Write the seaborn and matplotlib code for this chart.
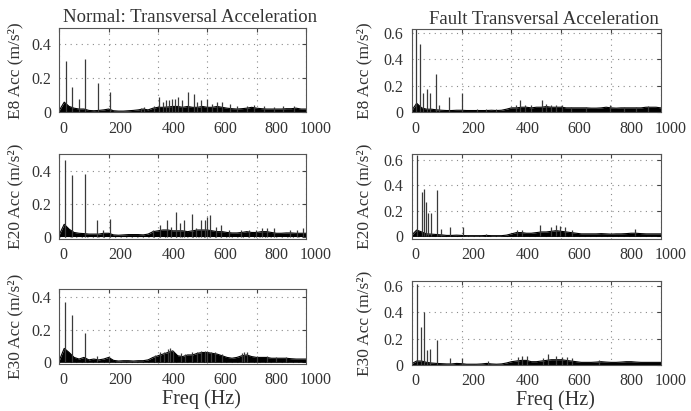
import numpy as np
import pandas as pd
import matplotlib
matplotlib.use('Agg')
import matplotlib.pyplot as plt
import matplotlib.transforms as mtransforms
import seaborn as sns

# frequency grid for the dense noise band (Hz)
band_freq = list(range(0, 1001, 20))

# ---- Normal E8 ----
e8n_band = [0.012, 0.06, 0.035, 0.025, 0.02, 0.02, 0.012, 0.01, 0.012, 0.015, 0.02, 0.01, 0.008, 0.008, 0.01,
            0.012, 0.015, 0.02, 0.015, 0.025, 0.03, 0.03, 0.032, 0.035, 0.035, 0.03, 0.035, 0.03, 0.03, 0.035,
            0.03, 0.03, 0.035, 0.03, 0.025, 0.022, 0.02, 0.022, 0.025, 0.03, 0.025, 0.022, 0.02, 0.02, 0.02,
            0.02, 0.022, 0.022, 0.025, 0.02, 0.02]
e8n_pk_f = [27, 53, 79, 105, 156, 205, 330, 345, 385, 405, 420, 432, 445, 458, 470, 483, 497, 520, 545, 560,
            575, 600, 620, 640, 660, 690, 720, 760, 790, 830, 870, 905, 950]
e8n_pk_a = [0.30, 0.15, 0.08, 0.31, 0.17, 0.12, 0.025, 0.03, 0.04, 0.09, 0.06, 0.07, 0.07, 0.08, 0.08, 0.09,
            0.07, 0.12, 0.11, 0.06, 0.07, 0.08, 0.05, 0.06, 0.06, 0.05, 0.04, 0.04, 0.045, 0.035, 0.03, 0.035, 0.035]

# ---- Fault E8 ----
e8f_band = [0.01, 0.065, 0.03, 0.02, 0.02, 0.015, 0.012, 0.01, 0.01, 0.012, 0.012, 0.01, 0.01, 0.01, 0.01,
            0.01, 0.012, 0.01, 0.012, 0.02, 0.03, 0.03, 0.035, 0.035, 0.03, 0.035, 0.035, 0.04, 0.035, 0.035,
            0.035, 0.03, 0.03, 0.03, 0.03, 0.03, 0.028, 0.028, 0.03, 0.035, 0.03, 0.028, 0.03, 0.03, 0.03,
            0.03, 0.03, 0.035, 0.035, 0.035, 0.03]
e8f_pk_f = [17, 33, 47, 60, 74, 96, 111, 150, 200, 260, 300, 340, 420, 434, 455, 480, 521, 540, 560, 580,
            602, 640, 700, 795, 850, 900, 949]
e8f_pk_a = [0.64, 0.52, 0.14, 0.17, 0.14, 0.29, 0.05, 0.11, 0.14, 0.02, 0.02, 0.02, 0.05, 0.09, 0.05, 0.05,
            0.09, 0.06, 0.05, 0.05, 0.05, 0.04, 0.04, 0.05, 0.04, 0.04, 0.045]

# ---- Normal E20 ----
e20n_band = [0.012, 0.075, 0.045, 0.025, 0.02, 0.018, 0.015, 0.015, 0.015, 0.02, 0.02, 0.01, 0.008, 0.01, 0.012,
             0.012, 0.012, 0.01, 0.015, 0.03, 0.035, 0.04, 0.04, 0.035, 0.035, 0.035, 0.03, 0.035, 0.04, 0.04,
             0.04, 0.035, 0.03, 0.03, 0.025, 0.022, 0.022, 0.025, 0.03, 0.025, 0.025, 0.03, 0.03, 0.025, 0.02,
             0.02, 0.022, 0.022, 0.02, 0.02, 0.02]
e20n_pk_f = [25, 52, 105, 153, 179, 204, 380, 407, 436, 452, 472, 489, 507, 536, 553, 573, 589, 600, 611, 636,
             656, 689, 736, 769, 796, 823, 843, 869, 936, 963, 989]
e20n_pk_a = [0.47, 0.375, 0.38, 0.10, 0.04, 0.105, 0.04, 0.07, 0.10, 0.06, 0.15, 0.08, 0.10, 0.14, 0.05, 0.10,
             0.10, 0.12, 0.13, 0.06, 0.07, 0.04, 0.04, 0.04, 0.04, 0.05, 0.05, 0.05, 0.04, 0.04, 0.05]

# ---- Fault E20 ----
e20f_band = [0.01, 0.05, 0.035, 0.02, 0.018, 0.015, 0.012, 0.008, 0.008, 0.01, 0.008, 0.006, 0.006, 0.006, 0.006,
             0.008, 0.006, 0.006, 0.006, 0.01, 0.02, 0.03, 0.03, 0.025, 0.025, 0.03, 0.035, 0.035, 0.04, 0.045,
             0.04, 0.035, 0.03, 0.025, 0.02, 0.02, 0.02, 0.02, 0.022, 0.02, 0.018, 0.02, 0.02, 0.022, 0.025,
             0.025, 0.022, 0.02, 0.02, 0.02, 0.02]
e20f_pk_f = [23, 40, 51, 56, 64, 77, 102, 118, 154, 205, 300, 421, 441, 515, 559, 578, 595, 615, 642, 896]
e20f_pk_a = [0.64, 0.35, 0.37, 0.27, 0.18, 0.18, 0.36, 0.06, 0.07, 0.07, 0.02, 0.05, 0.05, 0.09, 0.07, 0.09,
             0.08, 0.07, 0.05, 0.06]

# ---- Normal E30 ----
e30n_band = [0.012, 0.085, 0.06, 0.03, 0.02, 0.03, 0.015, 0.02, 0.015, 0.02, 0.03, 0.012, 0.008, 0.01, 0.01,
             0.008, 0.01, 0.01, 0.015, 0.03, 0.04, 0.05, 0.06, 0.07, 0.04, 0.035, 0.045, 0.045, 0.055, 0.06,
             0.06, 0.055, 0.05, 0.04, 0.03, 0.025, 0.03, 0.04, 0.045, 0.035, 0.03, 0.03, 0.03, 0.025, 0.025,
             0.025, 0.025, 0.022, 0.02, 0.02, 0.02]
e30n_pk_f = [24, 52, 103, 153, 203, 390, 410, 425, 440, 450, 460, 495, 510, 540, 560, 575, 590, 600, 615, 630,
             660, 740, 750, 760, 800, 840, 880, 920]
e30n_pk_a = [0.37, 0.29, 0.18, 0.04, 0.04, 0.045, 0.06, 0.065, 0.08, 0.085, 0.07, 0.055, 0.05, 0.06, 0.065,
             0.07, 0.07, 0.07, 0.065, 0.06, 0.05, 0.055, 0.06, 0.06, 0.04, 0.04, 0.035, 0.035]

# ---- Fault E30 ----
e30f_band = [0.01, 0.03, 0.03, 0.02, 0.015, 0.012, 0.01, 0.008, 0.008, 0.012, 0.01, 0.006, 0.006, 0.006, 0.008,
             0.012, 0.008, 0.006, 0.008, 0.015, 0.025, 0.03, 0.035, 0.035, 0.025, 0.025, 0.03, 0.035, 0.04, 0.04,
             0.04, 0.035, 0.03, 0.025, 0.02, 0.02, 0.02, 0.022, 0.025, 0.022, 0.02, 0.02, 0.022, 0.025, 0.025,
             0.022, 0.02, 0.02, 0.02, 0.02, 0.02]
e30f_pk_f = [23, 36, 48, 60, 75, 100, 154, 203, 307, 428, 444, 461, 528, 546, 579, 602, 622, 642, 750]
e30f_pk_a = [0.61, 0.29, 0.40, 0.11, 0.12, 0.19, 0.05, 0.05, 0.03, 0.06, 0.07, 0.07, 0.05, 0.08, 0.07, 0.06,
             0.06, 0.05, 0.04]

titles = ['Normal: Transversal Acceleration', 'Fault Transversal Acceleration']
ylabels = ['E8 Acc (m/s²)', 'E20 Acc (m/s²)', 'E30 Acc (m/s²)']
xticks = [0, 200, 400, 600, 800, 1000]

sns.set_theme(style='white')
plt.rcParams['font.family'] = ['Liberation Serif', 'DejaVu Serif']

fig = plt.figure(figsize=(6.91, 4.11), dpi=100)

panels = [
    # row, col, band, pk_f, pk_a, [left, bottom, width, height], ylim
    (0, 0, e8n_band, e8n_pk_f, e8n_pk_a, [0.0858, 0.7263, 0.357, 0.2056], (0, 0.49)),
    (0, 1, e8f_band, e8f_pk_f, e8f_pk_a, [0.5958, 0.7263, 0.3608, 0.2030], (-0.005, 0.63)),
    (1, 0, e20n_band, e20n_pk_f, e20n_pk_a, [0.0858, 0.4185, 0.357, 0.2068], (-0.015, 0.505)),
    (1, 1, e20f_band, e20f_pk_f, e20f_pk_a, [0.5958, 0.4185, 0.3608, 0.2068], (-0.02, 0.645)),
    (2, 0, e30n_band, e30n_pk_f, e30n_pk_a, [0.0858, 0.1144, 0.357, 0.1825], (-0.01, 0.447)),
    (2, 1, e30f_band, e30f_pk_f, e30f_pk_a, [0.5958, 0.1119, 0.3608, 0.2044], (0, 0.636)),
]

def ylab_fmt(v, pos):
    return '0' if abs(v) < 1e-9 else '%.1f' % v

# pixel shift of x tick labels (source labels sit right of the grid lines)
label_dx = [4, 12, 16, 18, 20, 10]

for row, col, band, pk_f, pk_a, rect, ylim in panels:
    ax = fig.add_axes(rect)
    df = pd.DataFrame({'freq': band_freq, 'acc': band})
    ax.fill_between(df['freq'], 0, df['acc'], color='black', lw=0)
    sns.lineplot(data=df, x='freq', y='acc', color='black', lw=0.8, ax=ax)
    ax.vlines(pk_f, 0, pk_a, color='#3a3a3a', lw=0.9)
    ax.set_xlim(0, 1000)
    ax.set_ylim(*ylim)
    ax.set_xticks(xticks)
    if col == 0:
        ax.set_yticks([0, 0.2, 0.4])
    else:
        ax.set_yticks([0, 0.2, 0.4, 0.6])
    ax.yaxis.set_major_formatter(plt.FuncFormatter(ylab_fmt))
    ax.grid(True, ls=(0, (1, 4)), color='#8a8a8a', lw=0.8)
    ax.tick_params(direction='in', length=3, width=0.8, color='#444444',
                   top=True, right=True, labelsize=11.5, labelcolor='#333333', pad=6)
    for sp in ax.spines.values():
        sp.set_color('#555555')
        sp.set_linewidth(0.8)
    for lab, dx in zip(ax.get_xticklabels(), label_dx):
        off = mtransforms.ScaledTranslation(dx / 100, 0, fig.dpi_scale_trans)
        lab.set_transform(lab.get_transform() + off)
    ax.set_ylabel(ylabels[row], fontsize=12.5, color='#333333')
    ax.yaxis.set_label_coords(-0.146 if col == 0 else -0.156, 0.5)
    if row == 0:
        ax.set_title(titles[col], fontsize=13.5, color='#333333', pad=4, x=0.53)
    if row == 2:
        ax.set_xlabel('Freq (Hz)', fontsize=14.5, color='#333333')
        ax.xaxis.set_label_coords(0.577, -0.335 if col == 0 else -0.295)
    else:
        ax.set_xlabel('')

fig.savefig('out.png', dpi=100)
